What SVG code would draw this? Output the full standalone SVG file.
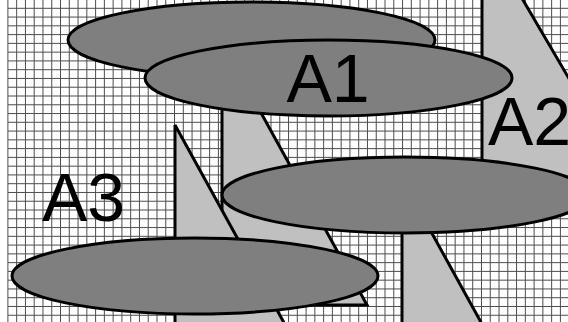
<svg xmlns="http://www.w3.org/2000/svg" width="568" height="322" viewBox="0 0 568 322">
<style>
.grid{fill:none;stroke:#4d4d4d;stroke-width:1}
.tri{fill:#c0c0c0;stroke:#000;stroke-width:3;stroke-linejoin:miter}
.ell{fill:#7f7f7f;stroke:#000;stroke-width:3}
.lbl{font-family:"Liberation Sans",Arial,sans-serif;font-size:68px;fill:#000;text-anchor:middle}
</style>
<rect width="568" height="322" fill="#fff"/>
<g id="grid">
<path class="grid" d="M7.9 0V322M16.67 0V322M25.44 0V322M34.21 0V322M42.98 0V322M51.75 0V322M60.52 0V322M69.29 0V322M78.06 0V322M86.83 0V322M95.6 0V322M104.37 0V322M113.14 0V322M121.91 0V322M130.68 0V322M139.45 0V322M148.22 0V322M156.99 0V322M165.76 0V322M174.53 0V322M183.3 0V322M192.07 0V322M200.84 0V322M209.61 0V322M218.38 0V322M227.15 0V322M235.92 0V322M244.69 0V322M253.46 0V322M262.23 0V322M271 0V322M279.77 0V322M288.54 0V322M297.31 0V322M306.08 0V322M314.85 0V322M323.62 0V322M332.39 0V322M341.16 0V322M349.93 0V322M358.7 0V322M367.47 0V322M376.24 0V322M385.01 0V322M393.78 0V322M402.55 0V322M411.32 0V322M420.09 0V322M428.86 0V322M437.63 0V322M446.4 0V322M455.17 0V322M463.94 0V322M472.71 0V322M481.48 0V322M490.25 0V322M499.02 0V322M507.79 0V322M516.56 0V322M525.33 0V322M534.1 0V322M542.87 0V322M551.64 0V322M560.41 0V322"/>
<path class="grid" d="M7.9 8.3H568M7.9 17.07H568M7.9 25.84H568M7.9 34.61H568M7.9 43.38H568M7.9 52.15H568M7.9 60.92H568M7.9 69.69H568M7.9 78.46H568M7.9 87.23H568M7.9 96H568M7.9 104.77H568M7.9 113.54H568M7.9 122.31H568M7.9 131.08H568M7.9 139.85H568M7.9 148.62H568M7.9 157.39H568M7.9 166.16H568M7.9 174.93H568M7.9 183.7H568M7.9 192.47H568M7.9 201.24H568M7.9 210.01H568M7.9 218.78H568M7.9 227.55H568M7.9 236.32H568M7.9 245.09H568M7.9 253.86H568M7.9 262.63H568M7.9 271.4H568M7.9 280.17H568M7.9 288.94H568M7.9 297.71H568M7.9 306.48H568M7.9 315.25H568"/>
</g>
<g id="triangles">
<polygon id="tri-A2" class="tri" points="482,-70 482,193 636,193"/>
<polygon id="tri-A1" class="tri" points="222,42 222,305 367,305"/>
<polygon id="tri-A3" class="tri" points="175,125 175,388 320,388"/>
<polygon id="tri-D" class="tri" points="402,179 402,442 547,442"/>
</g>
<g id="ellipses">
<ellipse id="ell-back" class="ell" cx="251.5" cy="40" rx="183.5" ry="38"/>
<ellipse id="ell-A1" class="ell" cx="328.5" cy="78" rx="183.5" ry="38"/>
<ellipse id="ell-right" class="ell" cx="405.5" cy="195" rx="183.5" ry="38"/>
<ellipse id="ell-bottom" class="ell" cx="195" cy="276" rx="183" ry="38"/>
</g>
<g id="labels">
<text id="A1" class="lbl" x="328" y="102">A1</text>
<text id="A2" class="lbl" x="529.5" y="145">A2</text>
<text id="A3" class="lbl" x="83.5" y="221">A3</text>
</g>
</svg>
